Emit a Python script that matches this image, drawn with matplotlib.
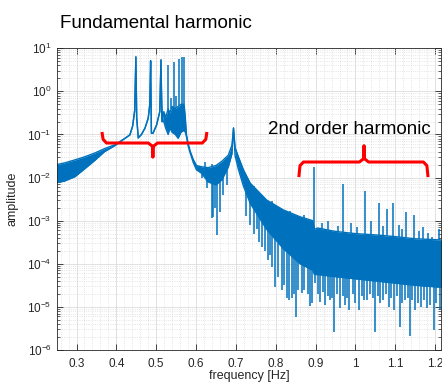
import numpy as np
import matplotlib
matplotlib.use("Agg")
import matplotlib.pyplot as plt
from matplotlib.ticker import MultipleLocator, LogLocator, FixedLocator, FuncFormatter

plt.rcParams['font.family'] = ['Liberation Sans', 'DejaVu Sans']
plt.rcParams['mathtext.default'] = 'regular'

# spectrum envelope, log10(amplitude)
freq = [0.250, 0.270, 0.296, 0.320, 0.346, 0.370, 0.396, 0.420, 0.434, 0.441,
        0.446, 0.449, 0.451, 0.455, 0.463, 0.472, 0.480, 0.484, 0.486, 0.488,
        0.492, 0.501, 0.509, 0.512, 0.514, 0.516, 0.519, 0.524, 0.530, 0.534,
        0.540, 0.548, 0.555, 0.562, 0.570, 0.573, 0.576, 0.580, 0.585, 0.593,
        0.601, 0.614, 0.630, 0.650, 0.665, 0.681, 0.690, 0.694, 0.698, 0.706,
        0.719, 0.736, 0.777, 0.819, 0.861, 0.893, 0.897, 0.905, 0.950, 1.000,
        1.050, 1.100, 1.150, 1.220]
upper = [-1.70, -1.66, -1.59, -1.52, -1.43, -1.33, -1.24, -1.10, -1.01, -0.80,
         -0.45, 0.80, -0.60, -1.08, -1.00, -0.85, -0.62, -0.30, 0.71, -0.97,
         -0.97, -0.78, -0.47, 0.73, -0.30, -0.70, -0.47, -0.60, -0.40, -0.50,
         -0.35, -0.40, -0.35, -0.30, -0.30, -0.60, -1.01, -1.20, -1.38, -1.58,
         -1.72, -1.75, -1.77, -1.72, -1.62, -1.48, -1.25, -0.85, -1.30, -1.51,
         -1.82, -2.13, -2.52, -2.75, -2.91, -3.00, -3.20, -3.17, -3.25, -3.30,
         -3.33, -3.37, -3.42, -3.45]
lower = [-2.12, -2.08, -1.98, -1.80, -1.60, -1.40, -1.26, -1.10, -1.01, -0.80,
         -0.45, 0.80, -0.60, -1.08, -1.00, -0.85, -0.62, -0.30, 0.71, -0.97,
         -0.97, -0.78, -0.47, 0.73, -0.70, -0.70, -0.70, -0.86, -1.00, -0.85,
         -0.95, -1.00, -1.09, -0.95, -0.90, -0.95, -1.05, -1.26, -1.42, -1.65,
         -1.82, -1.90, -2.10, -2.17, -2.05, -1.75, -1.45, -0.85, -1.50, -1.80,
         -2.20, -2.60, -3.20, -3.65, -4.00, -4.15, -4.25, -4.25, -4.30, -4.35,
         -4.40, -4.45, -4.50, -4.55]

# narrow peaks rising above the envelope
spike_f = [0.530, 0.538, 0.544, 0.550, 0.558, 0.564, 0.570,
           0.897, 0.930, 0.970, 0.990, 1.023, 1.040, 1.060, 1.080, 1.093,
           1.110, 1.128, 1.146, 1.170, 1.192, 1.210,
           0.622, 0.641, 0.672, 0.745, 0.790, 0.835, 0.872, 0.915, 0.955,
           1.005, 1.070, 1.118, 1.160, 1.182]
spike_top = [0.61, -0.15, 0.68, -0.10, 0.76, 0.79, 0.805,
             -1.76, -3.00, -2.14, -3.05, -2.31, -3.00, -2.60, -2.72, -2.58,
             -3.10, -2.79, -2.87, -3.15, -3.37, -3.20,
             -1.65, -1.68, -1.55, -2.20, -2.55, -2.78, -2.88, -3.05, -3.12,
             -3.15, -3.12, -3.20, -3.25, -3.28]

# narrow dips below the envelope
dip_f = [0.614, 0.627, 0.639, 0.643, 0.648, 0.653, 0.660, 0.668, 0.678,
         0.725, 0.735, 0.745, 0.752, 0.758, 0.772, 0.786, 0.806, 0.820,
         0.845, 0.857, 0.872, 0.880, 0.892,
         0.765, 0.781, 0.790, 0.799, 0.815, 0.828, 0.834, 0.840, 0.850, 0.865,
         0.886, 0.899, 0.911, 0.924, 0.941, 0.947, 0.962, 0.974, 0.985, 1.008,
         1.029, 1.050, 1.062, 1.083, 1.097, 1.112, 1.125, 1.136, 1.150, 1.164,
         1.179, 1.196, 1.211,
         0.905, 0.918, 0.931, 0.936, 0.953, 0.968, 0.979, 0.993, 1.000, 1.016,
         1.021, 1.037, 1.044, 1.056, 1.069, 1.076, 1.090, 1.104, 1.118, 1.131,
         1.143, 1.157, 1.171, 1.186, 1.203]
dip_bottom = [-2.02, -2.25, -2.94, -2.91, -2.71, -3.33, -2.79, -2.40, -2.17,
              -2.90, -3.10, -3.30, -3.20, -3.50, -3.70, -3.80, -4.30, -4.50,
              -4.70, -4.60, -4.60, -4.70, -4.90,
              -3.60, -3.91, -4.07, -4.53, -4.61, -4.80, -4.84, -4.80, -5.23, -4.68,
              -4.99, -4.45, -4.88, -4.96, -4.80, -5.58, -5.03, -4.96, -5.07, -5.07,
              -4.84, -5.58, -4.92, -5.00, -5.07, -5.46, -4.84, -5.67, -5.07, -5.00,
              -5.03, -5.54, -5.07,
              -4.70, -4.65, -4.75, -4.85, -4.70, -4.75, -4.80, -4.70, -4.90, -4.75,
              -4.85, -4.70, -4.80, -4.75, -4.85, -4.70, -4.80, -4.75, -4.90, -4.80,
              -4.85, -4.90, -4.85, -4.95, -4.90]

blue = '#0072BD'
ink = '#262626'

freq = np.array(freq)
upper = np.array(upper)
lower = np.array(lower)

fig = plt.figure(figsize=(4.42, 3.85), dpi=100)
ax = fig.add_axes([0.128, 0.091, 0.870, 0.7836])

ax.fill_between(freq, 10.0 ** lower, 10.0 ** upper, color=blue, lw=0)
ax.plot(freq, 10.0 ** upper, color=blue, lw=1.0)
ax.plot(freq, 10.0 ** lower, color=blue, lw=1.0)
ax.vlines(spike_f, 10.0 ** np.interp(spike_f, freq, upper), 10.0 ** np.array(spike_top),
          color=blue, lw=1.1)
ax.vlines(dip_f, 10.0 ** np.array(dip_bottom), 10.0 ** np.interp(dip_f, freq, lower),
          color=blue, lw=1.1)

ax.set_yscale('log')
ax.set_xlim(0.25, 1.215)
ax.set_ylim(1e-6, 1e1)

ax.xaxis.set_major_locator(FixedLocator(np.arange(0.3, 1.21, 0.1)))
ax.xaxis.set_major_formatter(FuncFormatter(lambda v, p: '%g' % round(v, 2)))
ax.xaxis.set_minor_locator(MultipleLocator(0.02))
ax.yaxis.set_major_locator(LogLocator(base=10, numticks=20))
ax.yaxis.set_minor_locator(LogLocator(base=10, subs=np.arange(2, 10), numticks=20))

ax.tick_params(which='both', direction='in', top=True, right=True, colors=ink,
               labelsize=8.5)
ax.tick_params(which='major', length=4, width=0.6)
ax.tick_params(which='minor', length=2, width=0.5)
ax.tick_params(axis='x', which='minor', length=0)
ax.tick_params(axis='x', pad=6)
for s in ax.spines.values():
    s.set_color(ink)
    s.set_linewidth(0.6)

ax.grid(which='major', color='#dcdcdc', lw=0.6)
ax.grid(which='minor', color='#dcdcdc', lw=0.6, ls=':')
ax.set_axisbelow(True)

ax.set_xlabel('frequency [Hz]', fontsize=9, color=ink, labelpad=0)
ax.set_ylabel('amplitude', fontsize=9, color=ink, labelpad=6)

fig.text(60 / 442, 1 - 24 / 385, 'Fundamental harmonic', fontsize=13.5,
         ha='left', va='center', color='black')
fig.text(268 / 442, 1 - 130 / 385, '2nd order harmonic', fontsize=13.5,
         ha='left', va='center', color='black')


def bracket(x0, x1, xt, yh, ye, yt):
    # curly-ish bracket in axes fraction coordinates
    d = 0.012
    xs = [x0, x0 + 0.003, x0 + d, xt - d, xt, xt, xt, xt + d, x1 - d, x1 - 0.003, x1]
    s = np.sign(ye - yh) * 0.012
    ys = [ye, yh + s, yh, yh, yh - s, yt, yh - s, yh, yh, yh + s, ye]
    ax.plot(xs, ys, color='red', lw=2.2, transform=ax.transAxes,
            solid_joinstyle='round', solid_capstyle='butt', clip_on=False)


bracket(0.118, 0.391, 0.2505, 0.686, 0.7226, 0.640)
bracket(0.630, 0.966, 0.7995, 0.623, 0.573, 0.676)

fig.savefig('out.png', dpi=100)
